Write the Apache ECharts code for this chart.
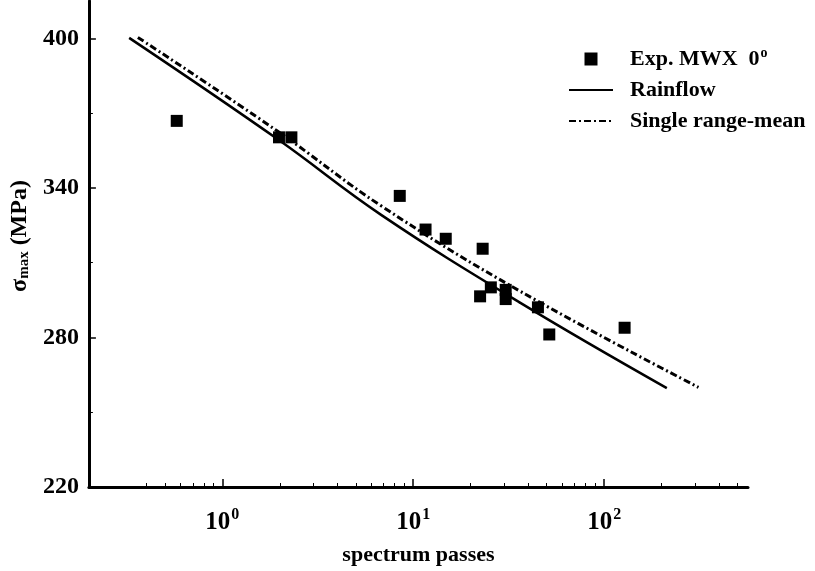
<!DOCTYPE html>
<html>
<head>
<meta charset="utf-8">
<script src="https://cdn.jsdelivr.net/npm/echarts@6/dist/echarts.min.js"></script>
<style>
  html, body { margin: 0; padding: 0; background: #fff; }
  #chart { width: 815px; height: 571px; }
</style>
</head>
<body>
<div id="chart"></div>
<script>
// experiment points [spectrum passes, sigma max]
const expPoints = [
  [0.577, 366.9], [1.98, 360.3], [2.30, 360.3], [8.50, 336.8],
  [11.6, 323.3], [14.8, 319.6], [23.1, 315.6], [25.5, 300.1],
  [22.4, 296.5], [30.5, 299.1], [30.5, 295.4], [45.0, 292.1],
  [51.6, 281.2], [128, 283.9]
];
// prediction curves
const rainflowLine = [
  [0.325, 400.2], [1.96, 359.4], [6.79, 329.2], [36.6, 293.8], [213, 259.7]
];
const rangeMeanLine = [
  [0.361, 400.4], [1.96, 362.6], [6.79, 332.8], [36.6, 298.4], [312, 260.0]
];
const xMajorTicks = [1, 10, 100];
const xMinorTicks = [0.4, 0.5, 0.6, 0.7, 0.8, 0.9, 2, 3, 4, 5, 6, 7, 8, 9,
  20, 30, 40, 50, 60, 70, 80, 90, 200, 300, 400, 500];
const yMajorTicks = [220, 280, 340, 400];
const yMinorTicks = [250, 310, 370];

const FONT = "'Liberation Serif', 'Times New Roman', serif";
const chart = echarts.init(document.getElementById("chart"));

const xRange = { min: 0.2, max: 567 };
const yRange = { min: 220, max: 415 };
const noSymbol = { color: "transparent", borderWidth: 0, opacity: 0 };

const option = {
  backgroundColor: "#fff",
  animation: false,
  grid: { left: 87, right: 67, top: 1, bottom: 80 },
  legend: {
    orient: "vertical",
    left: 568,
    top: 46,
    padding: 0,
    itemWidth: 44,
    itemHeight: 13,
    itemGap: 9,
    data: [
      { name: "Exp. MWX 0", icon: "path://M0,0L10,0L10,10L0,10Z" },
      { name: "Rainflow", itemStyle: noSymbol },
      { name: "Single range-mean", itemStyle: noSymbol }
    ],
    formatter: function (name) {
      if (name === "Exp. MWX 0") return "{t|Exp. MWX  0}{s|o}";
      return "{t|" + name + "}";
    },
    textStyle: {
      color: "#000",
      fontFamily: FONT,
      fontWeight: "bold",
      fontSize: 22,
      rich: {
        t: { fontFamily: FONT, fontWeight: "bold", fontSize: 22, color: "#000", padding: [0, 0, 0, 12] },
        s: { fontFamily: FONT, fontWeight: "bold", fontSize: 14, color: "#000", verticalAlign: "top", padding: [0, 0, 12, 1] }
      }
    }
  },
  xAxis: [
    {
      type: "log",
      position: "bottom",
      min: xRange.min,
      max: xRange.max,
      name: "spectrum passes",
      nameLocation: "middle",
      nameGap: 57,
      nameTextStyle: { fontFamily: FONT, fontWeight: "bold", fontSize: 22, color: "#000" },
      axisLine: { onZero: false, lineStyle: { color: "#000", width: 3 } },
      axisTick: { inside: true, length: 8, customValues: xMajorTicks, lineStyle: { color: "#000", width: 1.5 } },
      axisLabel: {
        customValues: xMajorTicks,
        margin: 20,
        formatter: function (v) {
          return "{b|10}{s|" + Math.round(Math.log10(v)) + "}";
        },
        rich: {
          b: { fontFamily: FONT, fontWeight: "bold", fontSize: 25, color: "#000" },
          s: { fontFamily: FONT, fontWeight: "bold", fontSize: 16, color: "#000", verticalAlign: "top", padding: [0, 0, 16, 1] }
        }
      },
      splitLine: { show: false },
      minorTick: { show: false }
    },
    {
      type: "log",
      position: "bottom",
      min: xRange.min,
      max: xRange.max,
      axisLine: { show: false, onZero: false },
      axisTick: { inside: true, length: 4, customValues: xMinorTicks, lineStyle: { color: "#000", width: 1 } },
      axisLabel: { show: false },
      splitLine: { show: false }
    }
  ],
  yAxis: [
    {
      type: "value",
      position: "left",
      min: yRange.min,
      max: yRange.max,
      name: "{a|σ}{sub|max}{a| (MPa)}",
      nameLocation: "middle",
      nameGap: 56,
      nameRotate: 90,
      nameTextStyle: {
        fontFamily: FONT, fontWeight: "bold", fontSize: 22, color: "#000",
        rich: {
          a: { fontFamily: FONT, fontWeight: "bold", fontSize: 24, color: "#000" },
          sub: { fontFamily: FONT, fontWeight: "bold", fontSize: 15, color: "#000", verticalAlign: "bottom", padding: [8, 0, 0, 0] }
        },
        padding: [0, 0, 0, 16]
      },
      axisLine: { onZero: false, lineStyle: { color: "#000", width: 3 } },
      axisTick: { inside: true, length: 7, customValues: yMajorTicks, lineStyle: { color: "#000", width: 1.5 } },
      axisLabel: {
        customValues: yMajorTicks,
        margin: 10,
        fontFamily: FONT, fontWeight: "bold", fontSize: 24, color: "#000"
      },
      splitLine: { show: false }
    },
    {
      type: "value",
      position: "left",
      min: yRange.min,
      max: yRange.max,
      axisLine: { show: false, onZero: false },
      axisTick: { inside: true, length: 4, customValues: yMinorTicks, lineStyle: { color: "#000", width: 1 } },
      axisLabel: { show: false },
      splitLine: { show: false }
    }
  ],
  series: [
    {
      name: "Exp. MWX 0",
      type: "scatter",
      xAxisIndex: 0,
      yAxisIndex: 0,
      symbol: "rect",
      symbolSize: 12,
      itemStyle: { color: "#000", opacity: 1 },
      data: expPoints,
      z: 3
    },
    {
      name: "Rainflow",
      type: "line",
      xAxisIndex: 0,
      yAxisIndex: 0,
      symbol: "none",
      smooth: 0.4,
      lineStyle: { color: "#000", width: 2.5 },
      itemStyle: { color: "#000" },
      data: rainflowLine
    },
    {
      name: "Single range-mean",
      type: "line",
      xAxisIndex: 0,
      yAxisIndex: 0,
      symbol: "none",
      smooth: 0.4,
      lineStyle: { color: "#000", width: 3, type: [7, 3, 2, 3] },
      itemStyle: { color: "#000" },
      data: rangeMeanLine
    }
  ]
};

chart.setOption(option);
</script>
</body>
</html>
